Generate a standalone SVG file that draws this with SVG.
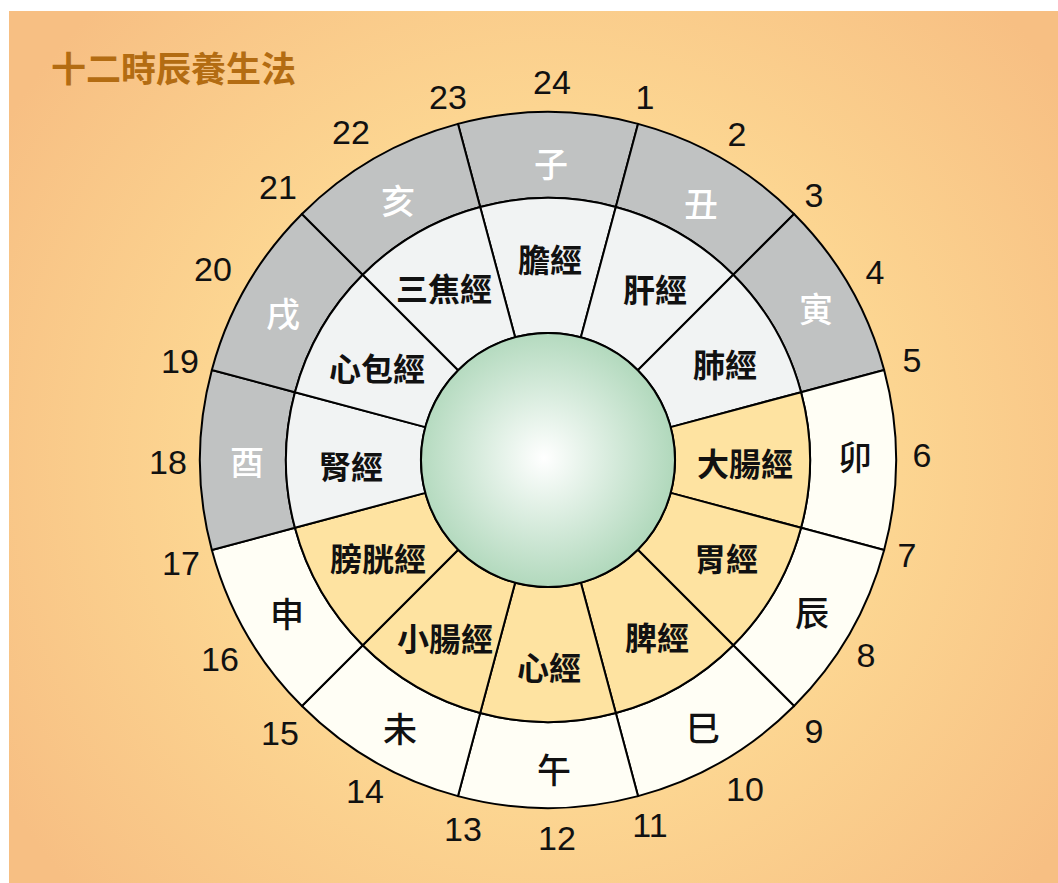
<svg xmlns="http://www.w3.org/2000/svg" width="1058" height="883" viewBox="0 0 1058 883">
<defs>
<radialGradient id="bg" cx="548" cy="460" r="640" gradientUnits="userSpaceOnUse">
<stop offset="0" stop-color="#fde7ab"/>
<stop offset="0.55" stop-color="#fcd591"/>
<stop offset="1" stop-color="#f7bf83"/>
</radialGradient>
<radialGradient id="ball" cx="544" cy="458" r="128" gradientUnits="userSpaceOnUse">
<stop offset="0" stop-color="#ffffff"/>
<stop offset="1" stop-color="#b2d9bd"/>
</radialGradient>
<style>
.sec{stroke:#000;stroke-width:2;stroke-linejoin:round}
.gray{fill:#c0c2c2}
.cream{fill:#fffef5}
.light{fill:#f1f3f3}
.orange{fill:#fee3a1}
.br{font-family:"Noto Sans CJK TC","Noto Sans CJK SC",sans-serif;font-size:34px;font-weight:500;text-anchor:middle;dominant-baseline:central}
.mer{font-family:"Noto Sans CJK TC","Noto Sans CJK SC",sans-serif;font-size:32px;font-weight:700;text-anchor:middle;dominant-baseline:central;fill:#111}
.w{fill:#ffffff}
.k{fill:#111}
.hr{font-family:"Liberation Sans",Arial,sans-serif;font-size:34px;text-anchor:middle;dominant-baseline:central;fill:#111}
.title{font-family:"Noto Sans CJK TC","Noto Sans CJK SC",sans-serif;font-size:35px;font-weight:700;fill:#b36c12;dominant-baseline:central}
</style>
</defs>
<rect x="0" y="0" width="1058" height="883" fill="#ffffff"/>
<rect x="9" y="11" width="1049" height="872" fill="url(#bg)"/>
<g id="title"><text class="title" x="51" y="66">十二時辰養生法</text></g>

<g id="outer-ring">
<g id="zi"><path class="sec gray" d="M457.93,123.86 A348,348 0 0 1 638.07,123.86 L615.81,206.93 A262,262 0 0 0 480.19,206.93 Z"/><text class="br w" x="551" y="162">子</text></g>
<g id="chou"><path class="sec gray" d="M638.07,123.86 A348,348 0 0 1 794.07,213.93 L733.26,274.74 A262,262 0 0 0 615.81,206.93 Z"/><text class="br w" x="701" y="202">丑</text></g>
<g id="yin"><path class="sec gray" d="M794.07,213.93 A348,348 0 0 1 884.14,369.93 L801.07,392.19 A262,262 0 0 0 733.26,274.74 Z"/><text class="br w" x="816" y="307">寅</text></g>
<g id="mao"><path class="sec cream" d="M884.14,369.93 A348,348 0 0 1 884.14,550.07 L801.07,527.81 A262,262 0 0 0 801.07,392.19 Z"/><text class="br k" x="855" y="455">卯</text></g>
<g id="chen"><path class="sec cream" d="M884.14,550.07 A348,348 0 0 1 794.07,706.07 L733.26,645.26 A262,262 0 0 0 801.07,527.81 Z"/><text class="br k" x="812" y="611">辰</text></g>
<g id="si"><path class="sec cream" d="M794.07,706.07 A348,348 0 0 1 638.07,796.14 L615.81,713.07 A262,262 0 0 0 733.26,645.26 Z"/><text class="br k" x="703" y="726">巳</text></g>
<g id="wu"><path class="sec cream" d="M638.07,796.14 A348,348 0 0 1 457.93,796.14 L480.19,713.07 A262,262 0 0 0 615.81,713.07 Z"/><text class="br k" x="554" y="768">午</text></g>
<g id="wei"><path class="sec cream" d="M457.93,796.14 A348,348 0 0 1 301.93,706.07 L362.74,645.26 A262,262 0 0 0 480.19,713.07 Z"/><text class="br k" x="400" y="727">未</text></g>
<g id="shen"><path class="sec cream" d="M301.93,706.07 A348,348 0 0 1 211.86,550.07 L294.93,527.81 A262,262 0 0 0 362.74,645.26 Z"/><text class="br k" x="287" y="612">申</text></g>
<g id="you"><path class="sec gray" d="M211.86,550.07 A348,348 0 0 1 211.86,369.93 L294.93,392.19 A262,262 0 0 0 294.93,527.81 Z"/><text class="br w" x="247" y="460">酉</text></g>
<g id="xu"><path class="sec gray" d="M211.86,369.93 A348,348 0 0 1 301.93,213.93 L362.74,274.74 A262,262 0 0 0 294.93,392.19 Z"/><text class="br w" x="283" y="312">戌</text></g>
<g id="hai"><path class="sec gray" d="M301.93,213.93 A348,348 0 0 1 457.93,123.86 L480.19,206.93 A262,262 0 0 0 362.74,274.74 Z"/><text class="br w" x="398" y="199">亥</text></g>
</g>

<g id="inner-ring">
<g id="dan"><path class="sec light" d="M480.19,206.93 A262,262 0 0 1 615.81,206.93 L580.87,337.33 A127,127 0 0 0 515.13,337.33 Z"/><text class="mer" x="550" y="258">膽經</text></g>
<g id="gan"><path class="sec light" d="M615.81,206.93 A262,262 0 0 1 733.26,274.74 L637.80,370.20 A127,127 0 0 0 580.87,337.33 Z"/><text class="mer" x="655" y="288">肝經</text></g>
<g id="fei"><path class="sec light" d="M733.26,274.74 A262,262 0 0 1 801.07,392.19 L670.67,427.13 A127,127 0 0 0 637.80,370.20 Z"/><text class="mer" x="725" y="363">肺經</text></g>
<g id="dachang"><path class="sec orange" d="M801.07,392.19 A262,262 0 0 1 801.07,527.81 L670.67,492.87 A127,127 0 0 0 670.67,427.13 Z"/><text class="mer" x="745" y="462">大腸經</text></g>
<g id="wei-jing"><path class="sec orange" d="M801.07,527.81 A262,262 0 0 1 733.26,645.26 L637.80,549.80 A127,127 0 0 0 670.67,492.87 Z"/><text class="mer" x="726" y="557">胃經</text></g>
<g id="pi"><path class="sec orange" d="M733.26,645.26 A262,262 0 0 1 615.81,713.07 L580.87,582.67 A127,127 0 0 0 637.80,549.80 Z"/><text class="mer" x="657" y="636">脾經</text></g>
<g id="xin"><path class="sec orange" d="M615.81,713.07 A262,262 0 0 1 480.19,713.07 L515.13,582.67 A127,127 0 0 0 580.87,582.67 Z"/><text class="mer" x="549" y="666">心經</text></g>
<g id="xiaochang"><path class="sec orange" d="M480.19,713.07 A262,262 0 0 1 362.74,645.26 L458.20,549.80 A127,127 0 0 0 515.13,582.67 Z"/><text class="mer" x="445" y="637">小腸經</text></g>
<g id="pangguang"><path class="sec orange" d="M362.74,645.26 A262,262 0 0 1 294.93,527.81 L425.33,492.87 A127,127 0 0 0 458.20,549.80 Z"/><text class="mer" x="378" y="557">膀胱經</text></g>
<g id="shen-jing"><path class="sec light" d="M294.93,527.81 A262,262 0 0 1 294.93,392.19 L425.33,427.13 A127,127 0 0 0 425.33,492.87 Z"/><text class="mer" x="351" y="465">腎經</text></g>
<g id="xinbao"><path class="sec light" d="M294.93,392.19 A262,262 0 0 1 362.74,274.74 L458.20,370.20 A127,127 0 0 0 425.33,427.13 Z"/><text class="mer" x="377" y="367">心包經</text></g>
<g id="sanjiao"><path class="sec light" d="M362.74,274.74 A262,262 0 0 1 480.19,206.93 L515.13,337.33 A127,127 0 0 0 458.20,370.20 Z"/><text class="mer" x="444" y="287">三焦經</text></g>
</g>

<g id="center"><circle cx="548" cy="460" r="127" fill="url(#ball)" stroke="#000" stroke-width="2"/></g>

<g id="connectors"></g>

<g id="hours">
<text class="hr" x="552" y="82">24</text>
<text class="hr" x="645" y="97">1</text>
<text class="hr" x="737" y="134">2</text>
<text class="hr" x="814" y="195">3</text>
<text class="hr" x="875" y="272">4</text>
<text class="hr" x="912" y="360">5</text>
<text class="hr" x="922" y="455">6</text>
<text class="hr" x="907" y="555">7</text>
<text class="hr" x="866" y="655">8</text>
<text class="hr" x="814" y="731">9</text>
<text class="hr" x="745" y="789">10</text>
<text class="hr" x="650" y="825">11</text>
<text class="hr" x="557" y="838">12</text>
<text class="hr" x="463" y="829">13</text>
<text class="hr" x="365" y="791">14</text>
<text class="hr" x="280" y="733">15</text>
<text class="hr" x="220" y="659">16</text>
<text class="hr" x="181" y="563">17</text>
<text class="hr" x="168" y="462">18</text>
<text class="hr" x="180" y="361">19</text>
<text class="hr" x="213" y="269">20</text>
<text class="hr" x="278" y="187">21</text>
<text class="hr" x="351" y="132">22</text>
<text class="hr" x="448" y="97">23</text>
</g>
</svg>
